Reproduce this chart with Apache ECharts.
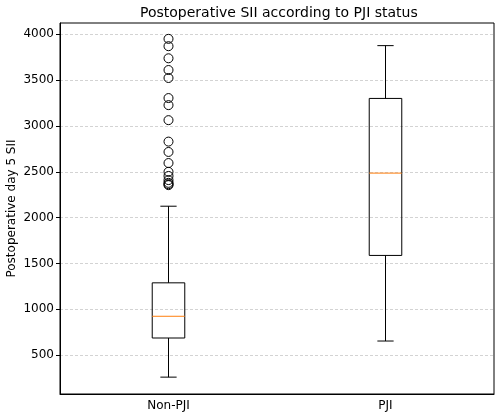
<!DOCTYPE html>
<html>
<head>
<meta charset="utf-8">
<script src="https://cdn.jsdelivr.net/npm/echarts@6/dist/echarts.min.js"></script>
<style>
  html, body { margin: 0; padding: 0; background: #fff; }
  #main { width: 500px; height: 420px; }
</style>
</head>
<body>
<div id="main"></div>
<script>
// groups on the x axis
var categories = ['Non-PJI', 'PJI'];
// box stats per group: [whisker low, Q1, median, Q3, whisker high]
var nonPjiStats = [260, 687, 924, 1289, 2125];
var pjiStats = [654, 1588, 2486, 3301, 3877];
// Non-PJI outliers (PJI has none)
var nonPjiOutliers = [3951, 3871, 3739, 3611, 3524, 3305, 3228, 3064, 2830, 2717, 2596, 2500, 2455, 2410, 2380, 2365, 2355];
// y tick labels
var yTicks = [500, 1000, 1500, 2000, 2500, 3000, 3500, 4000];

var font = 'DejaVu Sans';

var boxData = [
    [0].concat(nonPjiStats),
    [1].concat(pjiStats)
];
var outlierData = nonPjiOutliers.map(function (v) { return [0, v]; });

function renderBox(params, api) {
    var x = api.value(0);
    var pLow = api.coord([x, api.value(1)]);
    var pQ1 = api.coord([x, api.value(2)]);
    var pMed = api.coord([x, api.value(3)]);
    var pQ3 = api.coord([x, api.value(4)]);
    var pHigh = api.coord([x, api.value(5)]);
    var band = api.size([1, 0])[0];
    var bw = band * 0.15;
    var cw = bw / 2;
    var cx = pMed[0];
    var black = { stroke: '#000', lineWidth: 1, fill: null };
    return {
        type: 'group',
        children: [
            { type: 'line', shape: { x1: cx, y1: pQ3[1], x2: cx, y2: pHigh[1] }, style: black },
            { type: 'line', shape: { x1: cx, y1: pLow[1], x2: cx, y2: pQ1[1] }, style: black },
            { type: 'line', shape: { x1: cx - cw / 2, y1: pHigh[1], x2: cx + cw / 2, y2: pHigh[1] }, style: black },
            { type: 'line', shape: { x1: cx - cw / 2, y1: pLow[1], x2: cx + cw / 2, y2: pLow[1] }, style: black },
            { type: 'rect', shape: { x: cx - bw / 2, y: pQ3[1], width: bw, height: pQ1[1] - pQ3[1] }, style: { stroke: '#000', lineWidth: 1, fill: 'none' } },
            { type: 'line', shape: { x1: cx - bw / 2, y1: pMed[1], x2: cx + bw / 2, y2: pMed[1] }, style: { stroke: '#ff7f0e', lineWidth: 1 } }
        ]
    };
}

var myChart = echarts.init(document.getElementById('main'));
var option = {
    animation: false,
    backgroundColor: '#fff',
    title: {
        text: 'Postoperative SII according to PJI status',
        left: 135,
        top: 1,
        textStyle: { fontFamily: font, fontSize: 14, fontWeight: 'normal', color: '#000' }
    },
    grid: {
        left: 60, right: 6, top: 23, bottom: 26,
        outerBoundsMode: 'none',
        containLabel: false,
        show: true, borderColor: '#000', borderWidth: 1, backgroundColor: 'transparent'
    },
    xAxis: {
        type: 'category',
        data: categories,
        axisLine: { lineStyle: { color: '#000', width: 1 } },
        axisTick: { alignWithLabel: true, length: 4, lineStyle: { color: '#000' } },
        axisLabel: { color: '#000', fontFamily: font, fontSize: 12, margin: 6 },
        splitLine: { show: false }
    },
    yAxis: {
        type: 'value',
        min: 76,
        max: 4124,
        name: 'Postoperative day 5 SII',
        nameLocation: 'middle',
        nameGap: 42,
        nameMoveOverlap: false,
        nameTextStyle: { color: '#000', fontFamily: font, fontSize: 12 },
        axisLine: { show: true, lineStyle: { color: '#000', width: 1 } },
        axisTick: { show: true, length: 4, customValues: yTicks, lineStyle: { color: '#000' } },
        axisLabel: {
            color: '#000', fontFamily: font, fontSize: 12, margin: 6, customValues: yTicks,
            formatter: function (v) { return String(v); }
        },
        splitLine: { show: true, lineStyle: { color: '#c8c8c8', type: [3, 2], width: 0.8 } }
    },
    series: [
        {
            type: 'custom',
            renderItem: renderBox,
            encode: { x: 0, y: [1, 2, 3, 4, 5] },
            data: boxData,
            z: 3
        },
        {
            type: 'scatter',
            data: outlierData,
            symbol: 'circle',
            symbolSize: 9,
            itemStyle: { color: 'rgba(0,0,0,0)', borderColor: '#000', borderWidth: 1, opacity: 1 },
            z: 4
        }
    ]
};
myChart.setOption(option);
</script>
</body>
</html>
